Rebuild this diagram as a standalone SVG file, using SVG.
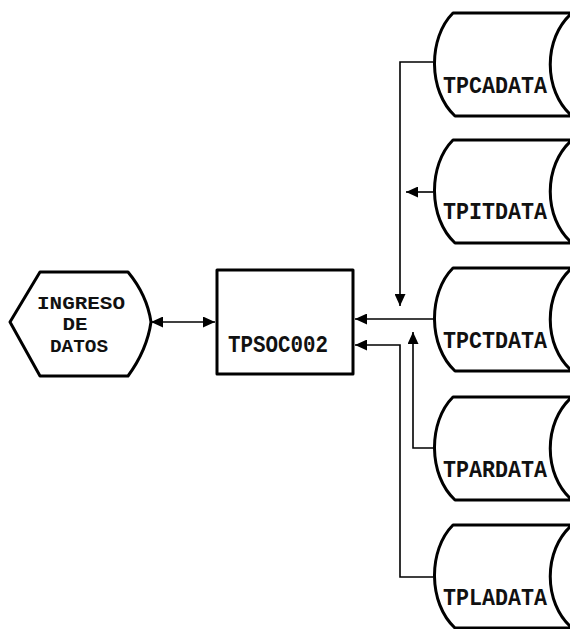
<svg xmlns="http://www.w3.org/2000/svg" width="570" height="629" viewBox="0 0 570 629">
<defs>
<style>
.shape{fill:#fff;stroke:#000;stroke-width:3;stroke-linejoin:round}
.conn{fill:none;stroke:#000;stroke-width:1.6}
.lbl{font-family:"Liberation Mono","DejaVu Sans Mono",monospace;font-weight:bold;font-size:24px;fill:#111}
.hx{font-size:18px}
</style>
<marker id="ah" markerUnits="userSpaceOnUse" markerWidth="13" markerHeight="11" refX="12" refY="5.5" orient="auto-start-reverse" viewBox="0 0 13 11">
<path d="M0,0 L12,5.5 L0,11 Z" fill="#000"/>
</marker>
</defs>
<rect width="570" height="629" fill="#fff"/>
<g id="connectors">
<path class="conn" d="M433,62 H400 V306" marker-end="url(#ah)"/>
<path class="conn" d="M433,192 H406" marker-end="url(#ah)"/>
<path class="conn" d="M433,319 H355" marker-end="url(#ah)"/>
<path class="conn" d="M433,448 H413 V332" marker-end="url(#ah)"/>
<path class="conn" d="M433,577 H400 V345 H355" marker-end="url(#ah)"/>
<path class="conn" d="M151,322 H215" marker-start="url(#ah)" marker-end="url(#ah)"/>
</g>
<g id="ingreso">
<path class="shape" d="M40,272 L128,272 Q147,295 151,322 Q147,350 128,376 L40,376 L10,322 Z"/>
<text class="lbl hx" x="81" y="309" text-anchor="middle" textLength="88" lengthAdjust="spacingAndGlyphs">INGRESO</text>
<text class="lbl hx" x="75" y="330" text-anchor="middle" textLength="25" lengthAdjust="spacingAndGlyphs">DE</text>
<text class="lbl hx" x="79" y="352" text-anchor="middle" textLength="58" lengthAdjust="spacingAndGlyphs">DATOS</text>
</g>
<g id="tpsoc002">
<rect class="shape" x="217" y="270" width="136" height="104" stroke-width="3.5"/>
<text class="lbl" x="228" y="352" textLength="100" lengthAdjust="spacingAndGlyphs">TPSOC002</text>
</g>
<g id="tpcadata">
<path class="shape" d="M453,13 L572,13 C543,38 543,91 572,116 L455,116 C428,91 428,38 453,13 Z"/>
<text class="lbl" x="443" y="93" textLength="104" lengthAdjust="spacingAndGlyphs">TPCADATA</text>
</g>
<g id="tpitdata">
<path class="shape" d="M453,140 L572,140 C543,165 543,218 572,243 L455,243 C428,218 428,165 453,140 Z"/>
<text class="lbl" x="443" y="219" textLength="104" lengthAdjust="spacingAndGlyphs">TPITDATA</text>
</g>
<g id="tpctdata">
<path class="shape" d="M453,268 L572,268 C543,293 543,346 572,371 L455,371 C428,346 428,293 453,268 Z"/>
<text class="lbl" x="443" y="348" textLength="104" lengthAdjust="spacingAndGlyphs">TPCTDATA</text>
</g>
<g id="tpardata">
<path class="shape" d="M453,397 L572,397 C543,422 543,475 572,500 L455,500 C428,475 428,422 453,397 Z"/>
<text class="lbl" x="443" y="477" textLength="104" lengthAdjust="spacingAndGlyphs">TPARDATA</text>
</g>
<g id="tpladata">
<path class="shape" d="M453,525 L572,525 C543,550 543,603 572,628 L455,628 C428,603 428,550 453,525 Z"/>
<text class="lbl" x="443" y="605" textLength="104" lengthAdjust="spacingAndGlyphs">TPLADATA</text>
</g>
</svg>
